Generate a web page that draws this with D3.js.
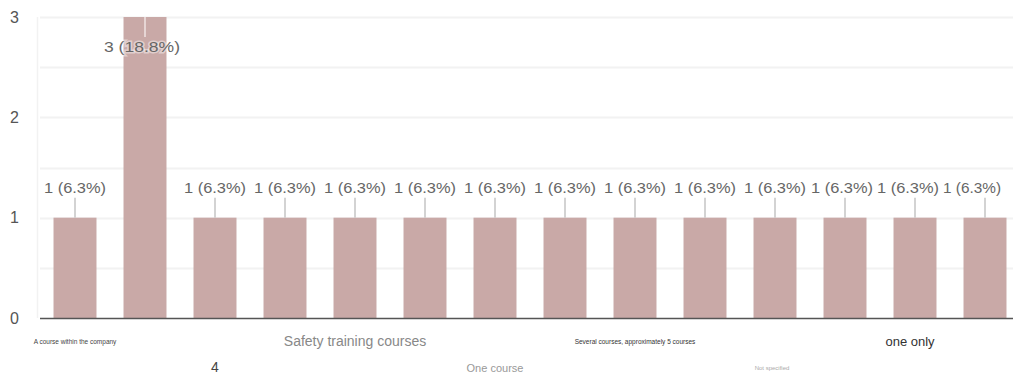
<!DOCTYPE html>
<html><head><meta charset="utf-8">
<script src="https://cdn.jsdelivr.net/npm/d3@7"></script>
<style>
html,body{margin:0;padding:0;background:#fff;}
svg{display:block;font-family:"Liberation Sans",Arial,sans-serif;}
</style></head>
<body>
<svg id="chart" width="1013" height="378"></svg>
<script>
// ---- data ----
const categories = [
  "A course within the company", "Two courses", "4", "Three courses",
  "Safety training courses", "No course", "One course", "Several",
  "Several courses, approximately 5 courses", "Five courses", "Not specified",
  "Many courses", "one only", "Other"
];
const counts = [1, 3, 1, 1, 1, 1, 1, 1, 1, 1, 1, 1, 1, 1];
const yTicks = [0, 1, 2, 3];
// which axis labels are visible (rows alternate)
const visibleLabel = [true,false,true,false,true,false,true,false,true,false,true,false,true,false];

// ---- layout / style ----
const W = 1013, H = 378;
const plot = {left: 40, right: 1020, top: 17, bottom: 318};
const barColor = "#c9a9a7";
const total = d3.sum(counts);

const svg = d3.select("#chart");
const x = d3.scaleBand().domain(d3.range(categories.length))
  .range([plot.left, plot.right]).paddingInner(0.386).paddingOuter(0.193);
const y = d3.scaleLinear().domain([0, 3]).range([plot.bottom, plot.top]);

// gridlines (major + minor at 0.5)
const gridVals = d3.range(0.5, 3.01, 0.5);
svg.append("g").selectAll("line").data(gridVals).join("line")
  .attr("x1", plot.left).attr("x2", W)
  .attr("y1", d => Math.round(y(d)) + 0.5).attr("y2", d => Math.round(y(d)) + 0.5)
  .attr("stroke", "#f2f2f2").attr("stroke-width", 2);

// left faint frame line
svg.append("line").attr("x1", 37.5).attr("x2", 37.5)
  .attr("y1", plot.top).attr("y2", plot.bottom)
  .attr("stroke", "#f2f2f2").attr("stroke-width", 1.5);

// y axis labels
const yAxis = d3.axisLeft(y).tickValues(yTicks).tickSize(0).tickPadding(0).tickFormat(d3.format("d"));
const gy = svg.append("g").attr("transform", "translate(19,0)").call(yAxis);
gy.select(".domain").remove();
gy.selectAll("text").attr("font-size", 16).attr("fill", "#555")
  .attr("font-family", "Liberation Sans, Arial, sans-serif");

// bars
svg.append("g").selectAll("rect").data(counts).join("rect")
  .attr("x", (d, i) => x(i)).attr("width", x.bandwidth())
  .attr("y", d => y(d)).attr("height", d => y(0) - y(d))
  .attr("fill", barColor);

// baseline
svg.append("line").attr("x1", plot.left).attr("x2", W)
  .attr("y1", y(0) + 0.5).attr("y2", y(0) + 0.5)
  .attr("stroke", "#555").attr("stroke-width", 1.5);

// value labels with leader lines; outside labels are nudged left to avoid overlap
const fmtPct = v => (Math.round(v / total * 1000) / 10).toFixed(1) + "%";
const lab = svg.append("g");
const maxV = d3.max(counts);
const labW = counts.map((v, i) => i === counts.length - 1 ? 58 : 62);
const labX = counts.map((v, i) => x(i) + x.bandwidth() / 2);
let limit = 1001;
for (let i = counts.length - 1; i >= 0; i--) {
  if (counts[i] === maxV) { limit = 1e9; continue; }
  labX[i] = Math.min(labX[i], limit - labW[i] / 2);
  limit = labX[i] - labW[i] / 2 - 4;
}
counts.forEach((v, i) => {
  const cx = x(i) + x.bandwidth() / 2;
  const txt = `${v} (${fmtPct(v)})`;
  if (v === maxV) {
    lab.append("line").attr("x1", cx).attr("x2", cx)
      .attr("y1", y(v)).attr("y2", y(v) + 20)
      .attr("stroke", "#e6d5d4").attr("stroke-width", 2);
    lab.append("text").attr("x", cx - 3).attr("y", y(v) + 35)
      .attr("text-anchor", "middle").attr("font-size", 15)
      .attr("textLength", 76).attr("lengthAdjust", "spacingAndGlyphs")
      .attr("fill", "#666").attr("stroke", "rgba(255,255,255,0.45)").attr("stroke-width", 3)
      .attr("paint-order", "stroke").text(txt);
  } else {
    lab.append("line").attr("x1", cx).attr("x2", cx)
      .attr("y1", y(v) - 20).attr("y2", y(v))
      .attr("stroke", "#c4c4c4").attr("stroke-width", 1.5);
    lab.append("text").attr("x", labX[i]).attr("y", y(v) - 25)
      .attr("text-anchor", "middle").attr("font-size", 15)
      .attr("textLength", labW[i]).attr("lengthAdjust", "spacingAndGlyphs")
      .attr("fill", "#666").text(txt);
  }
});

// category labels (alternating rows, individual styling as seen)
const labelStyle = {
  0:  {size: 6.5, fill: "#444", row: 0},
  2:  {size: 14,  fill: "#444", row: 1},
  4:  {size: 14,  fill: "#888", row: 0},
  6:  {size: 11,  fill: "#999", row: 1},
  8:  {size: 6.5, fill: "#333", row: 0},
  10: {size: 6,   fill: "#aaa", row: 1, dx: -3},
  12: {size: 13,  fill: "#333", row: 0, dx: -5}
};
const rowY = [346, 372];
const gx = svg.append("g");
categories.forEach((c, i) => {
  if (!visibleLabel[i]) return;
  const s = labelStyle[i];
  const cx = x(i) + x.bandwidth() / 2 + (s.dx || 0);
  gx.append("text").attr("x", cx).attr("y", rowY[s.row] - (s.size < 8 ? 2 : 0))
    .attr("text-anchor", "middle").attr("font-size", s.size).attr("fill", s.fill)
    .text(c);
});
</script>
</body></html>
